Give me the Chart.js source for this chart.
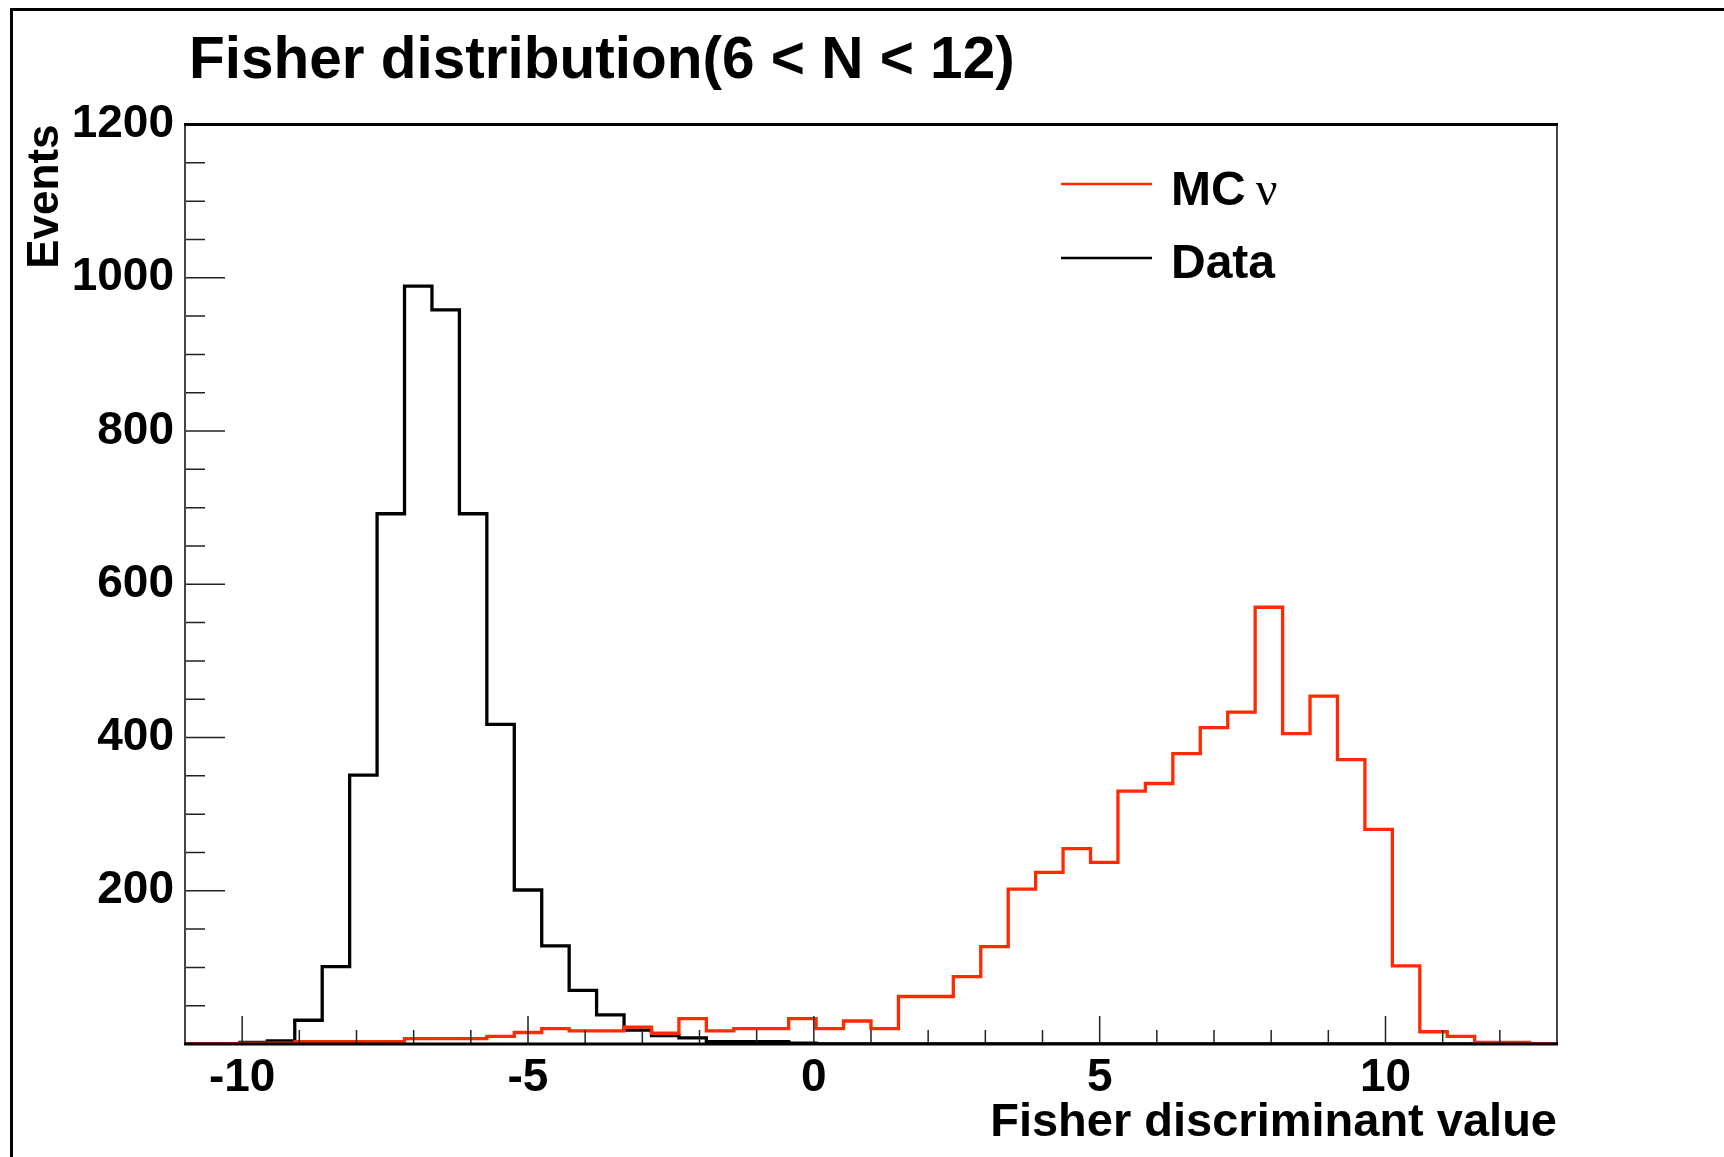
<!DOCTYPE html>
<html>
<head>
<meta charset="utf-8">
<title>Fisher distribution</title>
<script src="https://cdn.jsdelivr.net/npm/chart.js@4.4.1/dist/chart.umd.min.js"></script>
<style>
  html, body { margin: 0; padding: 0; background: #fff; }
  #caixa { position: relative; width: 1724px; height: 1157px; }
</style>
</head>
<body>
<div id="caixa"><canvas id="grafico"></canvas></div>
<script>
// binning of the Fisher discriminant axis
const xMin = -11
const xMax = 13
const nBins = 50

// events per bin, MC neutrino sample
const mcNu = [0, 0, 1, 1, 3, 3, 3, 3, 7, 7,
              7, 10, 15, 20, 17, 17, 22, 14, 33, 17,
              20, 20, 33, 20, 30, 20, 62, 62, 88, 127,
              202, 224, 255, 237, 330, 340, 379, 413, 433, 570,
              405, 454, 371, 280, 102, 16, 10, 2, 2, 0]

// events per bin, data
const dados = [0, 0, 2, 4, 31, 101, 351, 692, 989, 958,
               692, 417, 201, 128, 70, 38, 18, 11, 8, 3,
               3, 3, 1, 0, 0, 0, 0, 0, 0, 0,
               0, 0, 0, 0, 0, 0, 0, 0, 0, 0,
               0, 0, 0, 0, 0, 0, 0, 0, 0, 0]

const xTickLabels = [-10, -5, 0, 5, 10]
const yTickLabels = [200, 400, 600, 800, 1000, 1200]

const sans = '"Liberation Sans", Arial, Helvetica, sans-serif'
const vermelho = '#ff2a00'

// one point per lower bin edge, plus the upper edge of the last bin
const binWidth = (xMax - xMin) / nBins
const degraus = vals => {
  const pts = vals.map((v, i) => ({ x: xMin + i * binWidth, y: v }))
  pts.push({ x: xMax, y: vals[vals.length - 1] })
  return pts
}

// outer frame, inward ticks, plot box, title and legend
const moldura = {
  id: 'moldura',
  beforeDraw(chart) {
    const c = chart.ctx
    c.save()
    c.fillStyle = '#fff'
    c.fillRect(0, 0, chart.width, chart.height)
    c.fillStyle = '#000'
    c.fillRect(10, 8, chart.width - 10, 3)
    c.fillRect(10, 8, 3, chart.height - 8)
    c.restore()
  },
  afterDatasetsDraw(chart) {
    const { ctx: c, chartArea: a, scales: { x, y } } = chart
    c.save()
    c.strokeStyle = '#222'
    c.lineWidth = 1.5
    c.beginPath()
    for (let v = Math.ceil(xMin); v < xMax; v++) {
      const px = x.getPixelForValue(v)
      const len = v % 5 === 0 ? 28 : 14
      c.moveTo(px, a.bottom)
      c.lineTo(px, a.bottom - len)
    }
    for (let v = 50; v < 1200; v += 50) {
      const py = y.getPixelForValue(v)
      const len = v % 200 === 0 ? 40 : 20
      c.moveTo(a.left, py)
      c.lineTo(a.left + len, py)
    }
    c.stroke()

    // box
    c.strokeStyle = '#444'
    c.lineWidth = 2
    c.beginPath()
    c.moveTo(a.left, a.top)
    c.lineTo(a.left, a.bottom)
    c.moveTo(a.right, a.top)
    c.lineTo(a.right, a.bottom)
    c.stroke()
    c.strokeStyle = '#000'
    c.lineWidth = 3
    c.beginPath()
    c.moveTo(a.left - 1, a.top)
    c.lineTo(a.right + 1, a.top)
    c.moveTo(a.left - 1, a.bottom)
    c.lineTo(a.right + 1, a.bottom)
    c.stroke()
    c.restore()
  },
  afterDraw(chart) {
    const c = chart.ctx
    c.save()
    c.fillStyle = '#000'
    c.textBaseline = 'alphabetic'
    c.textAlign = 'left'
    c.font = 'bold 58.5px ' + sans
    c.fillText('Fisher distribution(6 < N < 12)', 189, 78)

    // legend
    c.lineWidth = 2.5
    c.strokeStyle = vermelho
    c.beginPath()
    c.moveTo(1061, 184)
    c.lineTo(1152, 184)
    c.stroke()
    c.strokeStyle = '#000'
    c.beginPath()
    c.moveTo(1061, 258)
    c.lineTo(1152, 258)
    c.stroke()

    c.font = 'bold 48px ' + sans
    c.fillText('MC', 1171, 205)
    const w = c.measureText('MC').width
    c.font = '48px "Liberation Serif", "Times New Roman", serif'
    c.fillText('\u03bd', 1171 + w + 10, 205)
    c.font = 'bold 48px ' + sans
    c.fillText('Data', 1171, 278)
    c.restore()
  }
}

const ctx = document.getElementById('grafico')

const grafico = new Chart(ctx, {
  type: 'line',
  data: {
    datasets: [
      {
        label: 'MC \u03bd',
        data: degraus(mcNu),
        borderColor: vermelho,
        borderWidth: 3.3,
        stepped: 'before',
        pointRadius: 0,
        fill: false
      },
      {
        label: 'Data',
        data: degraus(dados),
        borderColor: '#000',
        borderWidth: 3.3,
        stepped: 'before',
        pointRadius: 0,
        fill: false
      }
    ]
  },
  options: {
    responsive: true,
    maintainAspectRatio: false,
    animation: false,
    layout: { padding: { top: 124.5, right: 167, bottom: 0, left: 0 } },
    plugins: {
      legend: { display: false },
      tooltip: { enabled: false }
    },
    scales: {
      x: {
        type: 'linear',
        min: xMin,
        max: xMax,
        afterFit: s => { s.height = 113 },
        afterBuildTicks: s => { s.ticks = xTickLabels.map(v => ({ value: v })) },
        grid: { display: false, drawTicks: false },
        border: { display: false },
        ticks: {
          color: '#000',
          padding: 7,
          maxRotation: 0,
          autoSkip: false,
          callback: v => String(v),
          font: { family: sans, size: 46, weight: 'bold' }
        },
        title: {
          display: true,
          text: 'Fisher discriminant value',
          align: 'end',
          color: '#000',
          font: { family: sans, size: 47, weight: 'bold', lineHeight: 1 },
          padding: { top: 0, bottom: 10 }
        }
      },
      y: {
        min: 0,
        max: 1200,
        afterFit: s => { s.width = 185 },
        afterBuildTicks: s => { s.ticks = yTickLabels.map(v => ({ value: v })) },
        grid: { display: false, drawTicks: false },
        border: { display: false },
        ticks: {
          color: '#000',
          padding: 11,
          callback: v => String(v),
          font: { family: sans, size: 46, weight: 'bold' }
        },
        title: {
          display: true,
          text: 'Events',
          align: 'end',
          color: '#000',
          font: { family: sans, size: 44, weight: 'bold', lineHeight: 1 },
          padding: { top: 24, bottom: 0 }
        }
      }
    }
  },
  plugins: [moldura]
})
</script>
</body>
</html>
